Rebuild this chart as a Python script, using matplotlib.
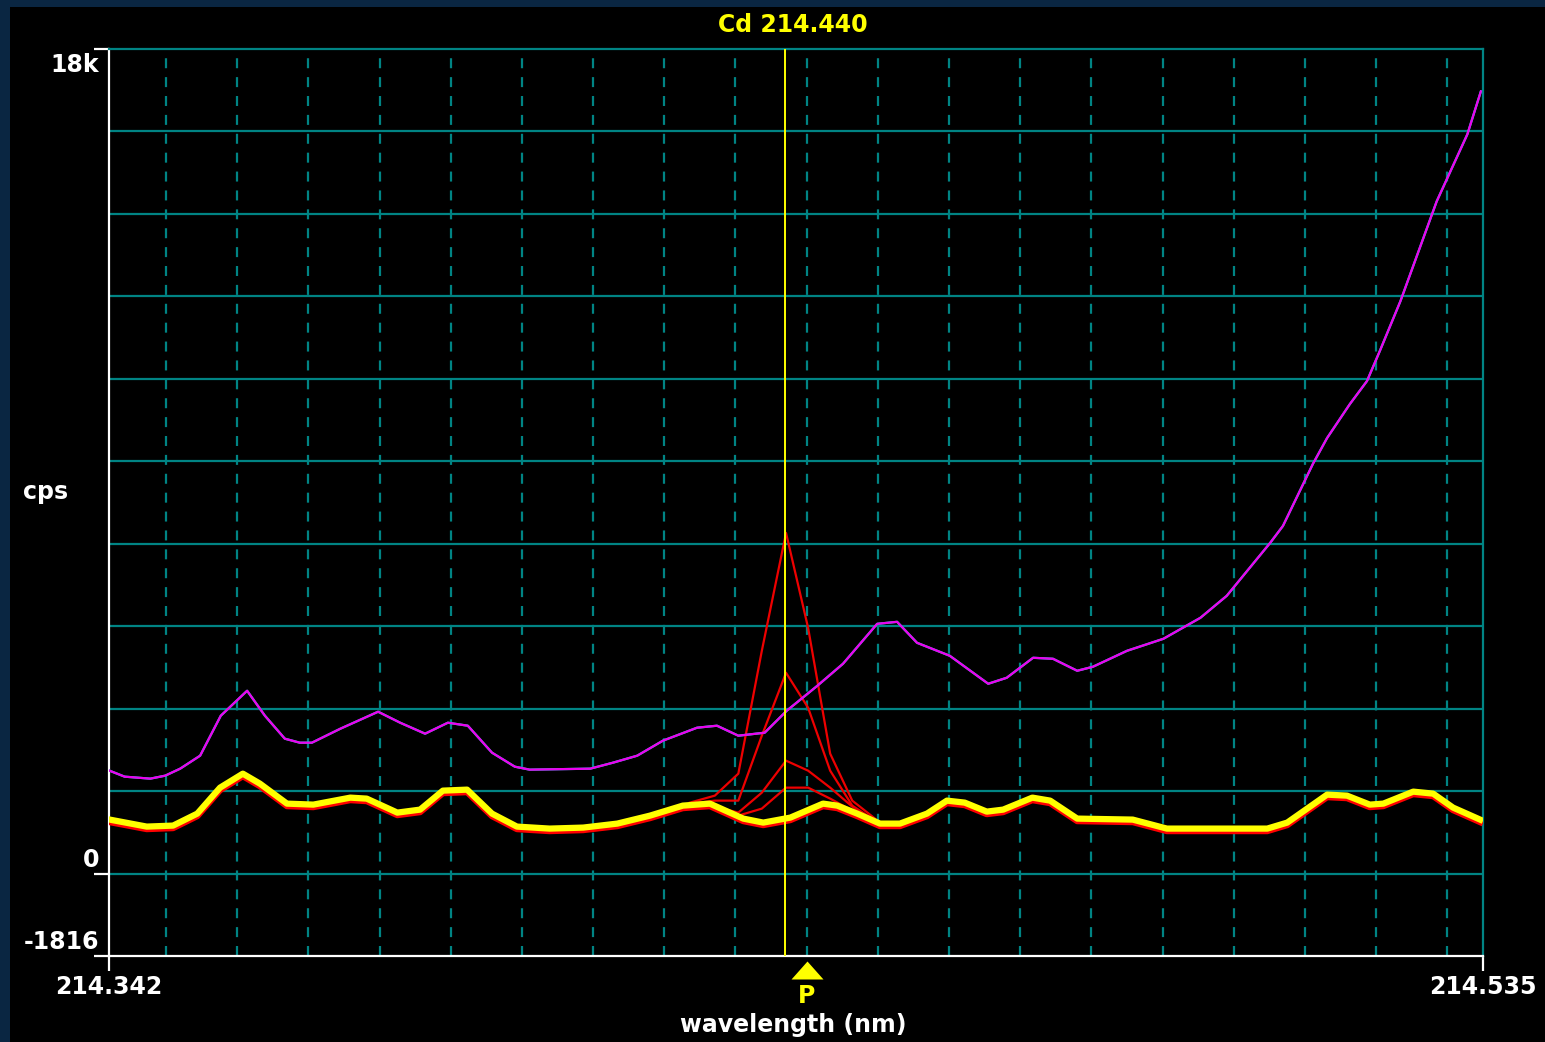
import numpy as np
import matplotlib
matplotlib.use("Agg")
import matplotlib.pyplot as plt
import matplotlib.transforms as mtransforms
from matplotlib.markers import MarkerStyle
from matplotlib.patches import Rectangle

# sample spectrum (magenta)
sample_wl = [214.3420, 214.3442, 214.3478, 214.3499, 214.3520, 214.3548, 214.3577,
             214.3614, 214.3639, 214.3667, 214.3688, 214.3705, 214.3745, 214.3798,
             214.3829, 214.3864, 214.3896, 214.3924, 214.3958, 214.3990, 214.4011,
             214.4096, 214.4128, 214.4162, 214.4198, 214.4246, 214.4274, 214.4304,
             214.4341, 214.4372, 214.4415, 214.4451, 214.4475, 214.4499, 214.4527,
             214.4555, 214.4601, 214.4655, 214.4681, 214.4718, 214.4746, 214.4780,
             214.4802, 214.4850, 214.4901, 214.4953, 214.4990, 214.5051, 214.5069,
             214.5111, 214.5131, 214.5163, 214.5187, 214.5205, 214.5234, 214.5285,
             214.5328, 214.5347]
sample_cps = [2270, 2134, 2090, 2156, 2310, 2596, 3476,
              4026, 3476, 2970, 2882, 2882, 3190, 3564,
              3322, 3080, 3322, 3256, 2662, 2354, 2288,
              2310, 2442, 2596, 2926, 3212, 3256, 3036,
              3102, 3586, 4136, 4620, 5060, 5500, 5544,
              5082, 4796, 4180, 4312, 4752, 4730, 4466,
              4554, 4906, 5170, 5632, 6116, 7282, 7656,
              9020, 9592, 10340, 10846, 11506, 12606, 14806,
              16280, 17226]

# blank spectrum (yellow over red)
blank_wl = [214.3421, 214.3473, 214.3510, 214.3544, 214.3576, 214.3608, 214.3632,
            214.3670, 214.3707, 214.3759, 214.3782, 214.3825, 214.3857, 214.3889,
            214.3923, 214.3958, 214.3993, 214.4039, 214.4086, 214.4134, 214.4180,
            214.4226, 214.4264, 214.4311, 214.4339, 214.4377, 214.4423, 214.4443,
            214.4471, 214.4503, 214.4531, 214.4569, 214.4597, 214.4622, 214.4653,
            214.4676, 214.4717, 214.4742, 214.4780, 214.4858, 214.4906, 214.5047,
            214.5075, 214.5131, 214.5159, 214.5191, 214.5210, 214.5252, 214.5280,
            214.5308, 214.5346]
blank_cps = [1188, 1034, 1056, 1320, 1892, 2200, 1980,
             1540, 1518, 1672, 1650, 1342, 1408, 1826,
             1848, 1320, 1034, 990, 1012, 1100, 1276,
             1496, 1540, 1210, 1122, 1232, 1540, 1496,
             1320, 1100, 1100, 1320, 1606, 1562, 1364,
             1408, 1672, 1606, 1210, 1188, 990, 990,
             1122, 1738, 1716, 1518, 1540, 1804, 1760,
             1452, 1188]

# standards around the Cd line (red)
std_wl = [214.4236, 214.4271, 214.4304, 214.4337, 214.4371, 214.4402, 214.4433,
          214.4464, 214.4496]
std_1 = [1562, 1716, 2200, 4906, 7502, 5412, 2640, 1606, 1210]
std_2 = [1540, 1606, 1606, 3036, 4422, 3652, 2266, 1496, 1166]
std_3 = [1540, 1474, 1342, 1782, 2486, 2266, 1892, 1474, 1144]
std_4 = [1540, 1474, 1276, 1430, 1892, 1892, 1650, 1386, 1122]

wl_min, wl_max = 214.342, 214.535
cps_min, cps_max = -1816, 18160
peak_wl = 214.437
line_wl = 214.440
x_grid = np.arange(214.35, 214.531, 0.01)
y_grid = np.arange(-1816, 18161, 1816)

teal = "#008484"
fig = plt.figure(figsize=(15.45, 10.42), dpi=100, facecolor="#0a2642")
fig.add_artist(Rectangle((10 / 1545, 0), 1, 1 - 7 / 1042, transform=fig.transFigure,
                         facecolor="black", edgecolor="none", zorder=0))

ax = fig.add_axes([109 / 1545, 86 / 1042, 1374 / 1545, 907 / 1042])
ax.set_facecolor("black")
ax.set_xlim(wl_min, wl_max)
ax.set_ylim(cps_min, cps_max)

# grid
for gy in y_grid[1:-1]:
    ax.axhline(gy, color=teal, lw=1.6, zorder=1)
for gx in x_grid:
    ax.axvline(gx, color=teal, lw=1.6, ls=(0, (4.5, 4)), zorder=1)

# spines
for side in ["left", "bottom"]:
    ax.spines[side].set_color("white")
    ax.spines[side].set_linewidth(1.6)
for side in ["top", "right"]:
    ax.spines[side].set_color(teal)
    ax.spines[side].set_linewidth(1.6)

ax.set_xticks([wl_min, wl_max])
ax.set_yticks([cps_min, 0, cps_max])
ax.set_xticklabels([])
ax.set_yticklabels([])
ax.tick_params(axis="both", color="white", width=1.6, length=11, direction="out")

# spectra
red_shift = mtransforms.offset_copy(ax.transData, fig=fig, x=0, y=-2.5, units="dots")
ax.plot(blank_wl, blank_cps, color="#ff0000", lw=4.5, transform=red_shift, zorder=3)
for s in [std_1, std_2, std_3, std_4]:
    ax.plot(std_wl, s, color="#ee0000", lw=1.6, zorder=3)
ax.plot(blank_wl, blank_cps, color="#ffff00", lw=4.5, zorder=4)
ax.plot(sample_wl, sample_cps, color="#00e0e0", lw=1.6, zorder=4)
ax.plot(sample_wl, sample_cps, color="#ee00ee", lw=1.6, zorder=5)

ax.axvline(peak_wl, color="#ffff00", lw=1.4, zorder=6)

# labels
font = dict(family="DejaVu Sans", weight="bold", fontsize=17)
ytrans = ax.get_yaxis_transform()
lab_lo = mtransforms.offset_copy(ytrans, fig=fig, x=-10, y=2, units="dots")
lab_hi = mtransforms.offset_copy(ytrans, fig=fig, x=-10, y=-4, units="dots")
ax.text(0, 0, "0", transform=lab_lo, ha="right", va="bottom", color="white", **font)
ax.text(0, cps_min, "-1816", transform=lab_lo, ha="right", va="bottom", color="white", **font)
ax.text(0, cps_max, "18k", transform=lab_hi, ha="right", va="top", color="white", **font)

xtrans = ax.get_xaxis_transform()
ax.text(wl_min, -0.034, "214.342", transform=xtrans, ha="center", va="center",
        color="white", **font)
ax.text(wl_max, -0.034, "214.535", transform=xtrans, ha="center", va="center",
        color="white", **font)

# peak marker under the axis
tri = MarkerStyle("^", transform=mtransforms.Affine2D().scale(1.25, 0.7))
ax.plot([line_wl], [-0.0155], transform=xtrans, marker=tri, ms=18, color="#ffff00",
        mec="none", clip_on=False, zorder=7)
ax.text(line_wl, -0.044, "P", transform=xtrans, ha="center", va="center",
        color="#ffff00", **font)

fig.text(793 / 1545, 1 - 25 / 1042, "Cd 214.440", ha="center", va="center",
         color="#ffff00", **font)
fig.text(46 / 1545, 1 - 492 / 1042, "cps", ha="center", va="center", color="white", **font)
fig.text(793 / 1545, 1 - 1025 / 1042, "wavelength (nm)", ha="center", va="center",
         color="white", **font)

fig.savefig("out.png", dpi=100, facecolor=fig.get_facecolor())
